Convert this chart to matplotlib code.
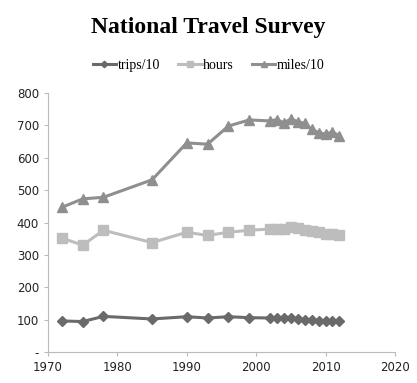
import matplotlib
matplotlib.use("Agg")
import matplotlib.pyplot as plt

years = [1972, 1975, 1978, 1985, 1990, 1993, 1996, 1999, 2002, 2003, 2004,
         2005, 2006, 2007, 2008, 2009, 2010, 2011, 2012]
trips = [96, 94, 110, 102, 109, 105, 109, 106, 105, 104, 104, 104, 103, 98,
         98, 96, 96, 96, 95]
hours = [352, 330, 376, 338, 370, 360, 370, 376, 380, 381, 381, 385, 382,
         376, 375, 370, 366, 363, 360]
miles = [447, 473, 478, 532, 646, 642, 698, 717, 714, 718, 708, 720, 712,
         706, 688, 678, 673, 680, 668]
yticks = [0, 100, 200, 300, 400, 500, 600, 700, 800]
ytick_labels = ["-", "100", "200", "300", "400", "500", "600", "700", "800"]
xticks = [1970, 1980, 1990, 2000, 2010, 2020]

serif = ["Liberation Serif", "DejaVu Serif"]

fig = plt.figure(figsize=(4.17, 3.83), dpi=100)
ax = fig.add_axes([0.115, 0.081, 0.832, 0.676])

ax.plot(years, trips, color="#6a6a6a", marker="D", markersize=5.5, lw=2.2,
        label="trips/10")
ax.plot(years, hours, color="#bdbdbd", marker="s", markersize=7, lw=2.2,
        label="hours")
ax.plot(years, miles, color="#8f8f8f", marker="^", markersize=7.5, lw=2.2,
        label="miles/10")

ax.set_xlim(1970, 2020)
ax.set_ylim(0, 800)
ax.set_xticks(xticks)
ax.set_yticks(yticks)
ax.set_yticklabels(ytick_labels)
for lab in ax.get_xticklabels() + ax.get_yticklabels():
    lab.set_family("DejaVu Sans")
    lab.set_fontsize(8.5)
    lab.set_color("#222222")
for s in ["top", "right"]:
    ax.spines[s].set_visible(False)
for s in ["left", "bottom"]:
    ax.spines[s].set_color("#bbbbbb")
    ax.spines[s].set_linewidth(0.8)
ax.tick_params(colors="#bbbbbb", length=3, width=0.8, labelcolor="#222222")

fig.text(0.5, 0.927, "National Travel Survey", ha="center", va="center",
         fontsize=17, fontweight="bold", family=serif)
leg = fig.legend(loc="center", bbox_to_anchor=(0.5, 0.83), ncol=3,
                 frameon=False, prop={"family": serif, "size": 10},
                 handlelength=1.7, columnspacing=1.3, handletextpad=0.1,
                 markerscale=0.6)

fig.savefig("out.png", dpi=100)
